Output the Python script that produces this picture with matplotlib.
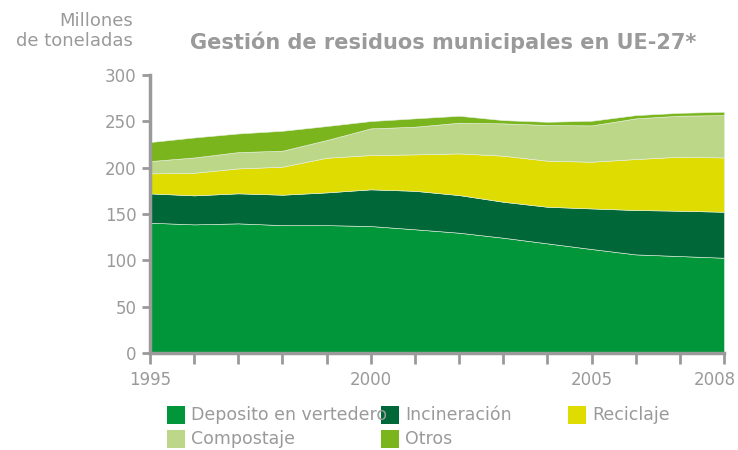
import matplotlib
matplotlib.use("Agg")
import matplotlib.pyplot as plt
import matplotlib.transforms as mtransforms
from matplotlib.patches import Rectangle

# Data (millones de toneladas)
years = list(range(1995, 2009))
vertedero = [140.6, 138.8, 139.9, 138.0, 138.0, 137.0, 133.5, 129.8, 124.4, 118.3, 112.2, 106.4, 104.6, 102.8]
incineracion_top = [172.2, 170.1, 172.3, 170.8, 173.3, 176.6, 175.0, 170.4, 163.2, 157.8, 156.0, 154.3, 153.5, 152.4]
reciclaje_top = [193.8, 194.5, 199.2, 201.0, 210.7, 213.6, 214.3, 215.4, 212.9, 207.5, 206.4, 209.3, 211.8, 211.0]
compostaje_top = [207.1, 211.0, 216.8, 218.3, 229.8, 242.4, 244.2, 248.5, 247.8, 246.0, 245.6, 253.2, 256.1, 256.7]
total = [227.6, 232.6, 236.9, 239.8, 244.9, 250.3, 253.2, 256.0, 251.3, 249.5, 250.6, 256.7, 259.2, 260.3]

incineracion = [a - b for a, b in zip(incineracion_top, vertedero)]
reciclaje = [a - b for a, b in zip(reciclaje_top, incineracion_top)]
compostaje = [a - b for a, b in zip(compostaje_top, reciclaje_top)]
otros = [a - b for a, b in zip(total, compostaje_top)]

labels = ["Deposito en vertedero", "Incineración", "Reciclaje", "Compostaje", "Otros"]
colors = ["#009639", "#006838", "#dedc00", "#bdd789", "#7ab51d"]
grey = "#9a9a9a"

plt.rcParams["font.family"] = "DejaVu Sans"

fig = plt.figure(figsize=(7.38, 4.5), dpi=100)
ax = fig.add_axes([150 / 738, 1 - 353 / 450, (724 - 150) / 738, (353 - 75) / 450])

ax.stackplot(years, vertedero, incineracion, reciclaje, compostaje, otros,
             colors=colors, edgecolor="#e8f0e0", linewidth=0.4)

ax.set_xlim(1995, 2008)
ax.set_ylim(0, 300)
ax.set_yticks(range(0, 301, 50))
ax.set_xticks(years)
ax.set_xticklabels([str(y) if y in (1995, 2000, 2005, 2008) else "" for y in years])

for side in ("top", "right"):
    ax.spines[side].set_visible(False)
for side in ("left", "bottom"):
    ax.spines[side].set_color(grey)
    ax.spines[side].set_linewidth(2.5)
ax.tick_params(axis="both", colors=grey, labelcolor=grey, labelsize=12, width=2, length=6)
ax.tick_params(axis="x", length=8, pad=5)

# last year label sits a little left so it stays inside the picture
last = ax.get_xticklabels()[-1]
last.set_horizontalalignment("right")
last.set_transform(last.get_transform() + mtransforms.ScaledTranslation(12 / 100, 0, fig.dpi_scale_trans))

fig.text(133 / 738, 1 - 31 / 450, "Millones\nde toneladas", ha="right", va="center",
         color=grey, fontsize=13, linespacing=1.2)
fig.text(443 / 738, 1 - 42 / 450, "Gestión de residuos municipales en UE-27*", ha="center",
         va="center", color=grey, fontsize=15, fontweight="bold")

# legend drawn by hand so the tight spacing of the original is kept
legend_pos = [(167, 415), (381, 415), (568, 415), (167, 439), (381, 439)]
for (x, y), lab, col in zip(legend_pos, labels, colors):
    fig.patches.append(Rectangle((x / 738, 1 - (y + 9) / 450), 18 / 738, 18 / 450,
                                 transform=fig.transFigure, facecolor=col, edgecolor="none"))
    fig.text((x + 24) / 738, 1 - y / 450, lab, ha="left", va="center", color=grey, fontsize=12.5)

fig.savefig("out.png", dpi=100)
